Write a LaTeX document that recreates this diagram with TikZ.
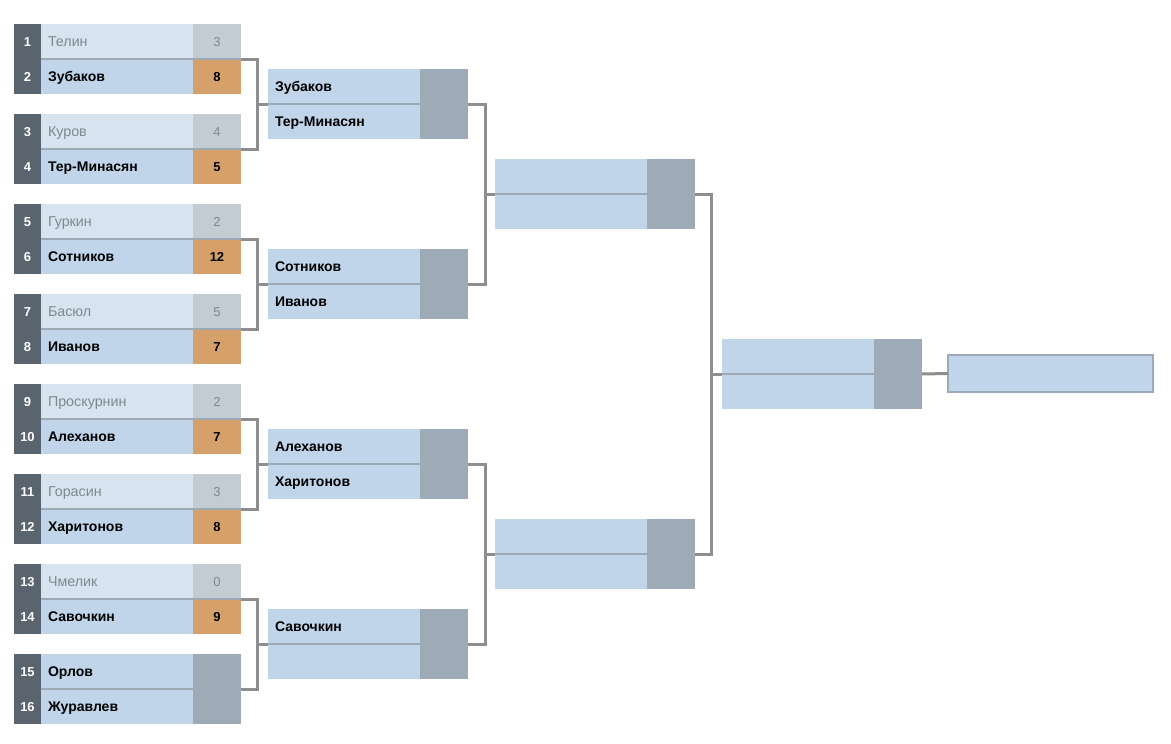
\documentclass[tikz,border=0pt]{standalone}
\usepackage{fontspec}
\setmainfont{Liberation Sans}
\definecolor{seedc}{HTML}{5A646E}
\definecolor{winbg}{HTML}{C1D5EA}
\definecolor{losebg}{HTML}{D7E3EF}
\definecolor{losesc}{HTML}{C4CCD3}
\definecolor{winsc}{HTML}{D5A06A}
\definecolor{emptysc}{HTML}{9EABB7}
\definecolor{sepc}{HTML}{9DA9B4}
\definecolor{connc}{HTML}{8E8E8E}
\definecolor{losetx}{HTML}{7E8892}
\tikzset{
 cellbase/.style={inner sep=0pt, outer sep=0pt, anchor=north west, minimum height=35pt, text depth=0pt},
 seedcell/.style={cellbase, fill=seedc, minimum width=27pt, text height=9.3pt, text=white, font=\bfseries\fontsize{13}{15}\selectfont},
 namewin/.style={cellbase, fill=winbg, inner xsep=7pt, text width=138pt, text height=10pt, align=left, text=black, font=\bfseries\fontsize{14}{16}\selectfont},
 namelose/.style={cellbase, fill=losebg, inner xsep=7pt, text width=138pt, text height=10.2pt, align=left, text=losetx, font=\fontsize{14.3}{16}\selectfont},
 scorewin/.style={cellbase, fill=winsc, minimum width=48pt, text height=9.3pt, text=black, font=\bfseries\fontsize{13}{15}\selectfont},
 scorelose/.style={cellbase, fill=losesc, minimum width=48pt, text height=9.3pt, text=losetx, font=\fontsize{13}{15}\selectfont},
 scoreempty/.style={cellbase, fill=emptysc, minimum width=48pt, minimum height=70pt},
 sepline/.style={draw=sepc, line width=1.5pt},
 conn/.style={draw=connc, line width=3pt},
 finalbox/.style={inner sep=0pt, outer sep=0pt, anchor=north west, fill=winbg, draw=sepc, line width=2pt, minimum width=205pt, minimum height=37pt}
}
\newcommand\rmatch[7]{%
 \pgfmathsetmacro\Ta{24+90*#1}\pgfmathsetmacro\Tb{59+90*#1}%
 \node[seedcell] (sa#1) at (14,\Ta) {#2};
 \node[namelose] (na#1) at (41,\Ta) {#3};
 \node[scorelose] (ca#1) at (193,\Ta) {#4};
 \node[seedcell] (sb#1) at (14,\Tb) {#5};
 \node[namewin] (nb#1) at (41,\Tb) {#6};
 \node[scorewin] (cb#1) at (193,\Tb) {#7};
 \draw[sepline] (na#1.south west) -- (ca#1.south east);
 \coordinate (ro#1) at (cb#1.north east);
}
\newcommand\rtwo[3]{%
 \pgfmathsetmacro\Ta{69+180*#1}\pgfmathsetmacro\Tb{104+180*#1}%
 \node[namewin] (tna#1) at (268,\Ta) {#2};
 \node[namewin] (tnb#1) at (268,\Tb) {#3};
 \node[scoreempty] (tsc#1) at (420,\Ta) {};
 \draw[sepline] (tna#1.south west) -- (tna#1.south east);
 \coordinate (ti#1) at (tnb#1.north west);
 \coordinate (to#1) at (tsc#1.east);
}
\begin{document}
\begin{tikzpicture}[x=1pt,y=-1pt]
\useasboundingbox[fill=white] (0,0) rectangle (1171,744);
\rmatch{0}{1}{Телин}{3}{2}{Зубаков}{8}
\rmatch{1}{3}{Куров}{4}{4}{Тер-Минасян}{5}
\rmatch{2}{5}{Гуркин}{2}{6}{Сотников}{12}
\rmatch{3}{7}{Басюл}{5}{8}{Иванов}{7}
\rmatch{4}{9}{Проскурнин}{2}{10}{Алеханов}{7}
\rmatch{5}{11}{Горасин}{3}{12}{Харитонов}{8}
\rmatch{6}{13}{Чмелик}{0}{14}{Савочкин}{9}
% match 8
\node[seedcell] (sa7) at (14,654) {15};
\node[namewin] (na7) at (41,654) {Орлов};
\node[seedcell] (sb7) at (14,689) {16};
\node[namewin] (nb7) at (41,689) {Журавлев};
\node[scoreempty] (ca7) at (193,654) {};
\draw[sepline] (na7.south west) -- (na7.south east);
\coordinate (ro7) at (ca7.east);
% round 2
\rtwo{0}{Зубаков}{Тер-Минасян}
\rtwo{1}{Сотников}{Иванов}
\rtwo{2}{Алеханов}{Харитонов}
\rtwo{3}{Савочкин}{}
% round 3
\foreach \j in {0,1}{
 \pgfmathsetmacro\Ta{159+360*\j}\pgfmathsetmacro\Tb{194+360*\j}
 \node[namewin] (hna\j) at (495,\Ta) {};
 \node[namewin] (hnb\j) at (495,\Tb) {};
 \node[scoreempty] (hsc\j) at (647,\Ta) {};
 \draw[sepline] (hna\j.south west) -- (hna\j.south east);
 \coordinate (hi\j) at (hnb\j.north west);
 \coordinate (ho\j) at (hsc\j.east);
}
% round 4
\node[namewin] (fna) at (722,339) {};
\node[namewin] (fnb) at (722,374) {};
\node[scoreempty] (fsc) at (874,339) {};
\draw[sepline] (fna.south west) -- (fna.south east);
\coordinate (fi) at (fnb.north west);
\coordinate (fo) at (fsc.east);
% final
\node[finalbox] (win) at (948,355) {};
% connectors round 1 -> 2
\foreach \j in {0,1,2,3}{
 \pgfmathtruncatemacro\a{2*\j}\pgfmathtruncatemacro\b{2*\j+1}
 \coordinate (ja\j) at (257,104+180*\j);
 \draw[conn] (ro\a) -| (ja\j) |- (ro\b);
 \draw[conn] (ja\j) -- (ti\j);
}
% round 2 -> 3
\foreach \j in {0,1}{
 \pgfmathtruncatemacro\a{2*\j}\pgfmathtruncatemacro\b{2*\j+1}
 \coordinate (jb\j) at (485,194+360*\j);
 \draw[conn] (to\a) -| (jb\j) |- (to\b);
 \draw[conn] (jb\j) -- (hi\j);
}
% round 3 -> 4
\coordinate (jc) at (711,374);
\draw[conn] (ho0) -| (jc) |- (ho1);
\draw[conn] (jc) -- (fi);
% round 4 -> final
\draw[conn] (fo) -- (win.west);
\end{tikzpicture}
\end{document}
